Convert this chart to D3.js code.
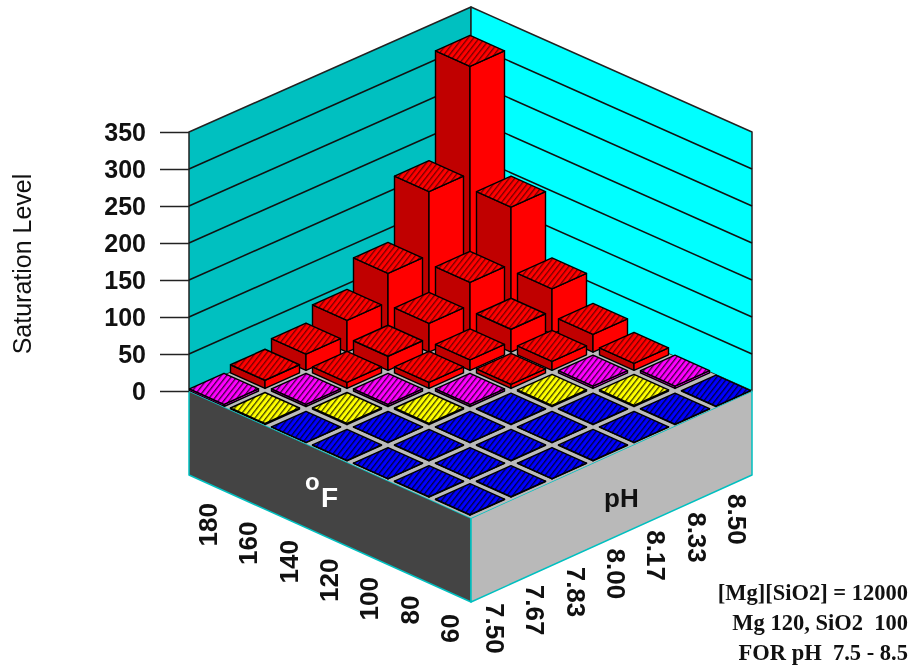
<!DOCTYPE html>
<html>
<head>
<meta charset="utf-8">
<script src="https://cdn.jsdelivr.net/npm/d3@7"></script>
<style>
  html, body { margin: 0; padding: 0; background: #fff; }
  svg { display: block; filter: blur(0.45px); }
  text { font-family: "Liberation Sans", Arial, sans-serif; }
</style>
</head>
<body>
<script>
// Saturation level by temperature and pH
var tempLabels = ["180", "160", "140", "120", "100", "80", "60"];
var phLabels = ["7.50", "7.67", "7.83", "8.00", "8.17", "8.33", "8.50"];
var levelTicks = [0, 50, 100, 150, 200, 250, 300, 350];

// one row per temperature, one value per pH
var sat180 = [3, 11, 22, 43, 82, 168, 313];
var sat160 = [1.5, 3, 8, 19, 39, 70, 147];
var sat140 = [0.5, 1.5, 3, 8, 14, 31, 61];
var sat120 = [0.5, 0.5, 1.5, 3, 5.5, 12, 24];
var sat100 = [0.5, 0.5, 0.5, 0.5, 1.5, 3, 9.5];
var sat80 = [0.5, 0.5, 0.5, 0.5, 0.5, 1.5, 3];
var sat60 = [0.5, 0.5, 0.5, 0.5, 0.5, 0.5, 0.5];
var satRows = [sat180, sat160, sat140, sat120, sat100, sat80, sat60];

var annotations = ["[Mg][SiO2] = 12000", "Mg 120, SiO2  100", "FOR pH  7.5 - 8.5"];

// Frame of the box
var left = 189, right = 752, mid = 471;
var floorY = 391, frontY = 518, backY = 266, baseDepth = 84;

var svg = d3.select("body").append("svg")
    .attr("width", 914)
    .attr("height", 665);

// Scales: value to pixels, and the two floor directions
var y = d3.scaleLinear().domain([0, 350]).range([floorY, 132]);
var tempStep = d3.scaleLinear().domain([0, 1]).range([0, 41]);
var stepY = d3.scaleLinear().domain([0, 1]).range([0, 18.1]);

function cellX(i, j) { return 224 + tempStep(i + j); }
function cellY(i, j) { return floorY + stepY(i - j); }

var levelColor = d3.scaleThreshold()
    .domain([1, 2, 5])
    .range(["#0000ff", "#ffff00", "#ff00ff", "#ff0000"]);
var darkColor = d3.scaleThreshold()
    .domain([1, 2, 5])
    .range(["#0000b0", "#b0b000", "#b000b0", "#c00000"]);

// Hatching on the top faces
var defs = svg.append("defs");
["#0000ff", "#ffff00", "#ff00ff", "#ff0000"].forEach(function(c, k) {
    var p = defs.append("pattern")
        .attr("id", "hatch" + k)
        .attr("patternUnits", "userSpaceOnUse")
        .attr("width", 4.4)
        .attr("height", 4.4)
        .attr("patternTransform", "rotate(38)");
    p.append("rect").attr("width", 4.4).attr("height", 4.4).attr("fill", c);
    p.append("rect").attr("width", 1.3).attr("height", 4.4).attr("fill", "#000").attr("opacity", k == 3 ? 0.55 : 0.75);
});
defs.append("clipPath").attr("id", "floorClip")
    .append("polygon")
    .attr("points", [[left, floorY], [left, 0], [right, 0], [right, floorY], [mid, frontY]].join(" "));

function poly(points, fill, stroke, width) {
    return svg.append("polygon")
        .attr("points", points.join(" "))
        .attr("fill", fill)
        .attr("stroke", stroke)
        .attr("stroke-width", width)
        .attr("stroke-linejoin", "round");
}

// Walls
var wallRise = floorY - backY;
poly([[left, y(0)], [left, y(350)], [mid, y(350) - wallRise], [mid, backY]], "#00c0c0", "#222", 1.5);
poly([[right, y(0)], [right, y(350)], [mid, y(350) - wallRise], [mid, backY]], "#00ffff", "#222", 1.5);

// Wall lines
levelTicks.slice(1, -1).forEach(function(t) {
    svg.append("line").attr("x1", left).attr("y1", y(t)).attr("x2", mid).attr("y2", y(t) - wallRise)
        .attr("stroke", "#111").attr("stroke-width", 1.5);
    svg.append("line").attr("x1", right).attr("y1", y(t)).attr("x2", mid).attr("y2", y(t) - wallRise)
        .attr("stroke", "#111").attr("stroke-width", 1.5);
});

// Base of the box
poly([[left, floorY], [mid, frontY], [mid, frontY + baseDepth], [left, floorY + baseDepth]], "#444444", "#00c0c0", 1.5);
poly([[right, floorY], [mid, frontY], [mid, frontY + baseDepth], [right, floorY + baseDepth]], "#b9b9b9", "#00c0c0", 1.5);
poly([[left, floorY], [mid, backY], [right, floorY], [mid, frontY]], "#bbbbbb", "none", 0);

// Bars, back to front
var cells = [];
satRows.forEach(function(row, i) {
    row.forEach(function(v, j) {
        cells.push({ i: i, j: j, v: v });
    });
});
cells.sort(function(a, b) { return (a.i - a.j) - (b.i - b.j); });

var hw = 34.5, hh = 15.5;
var bars = svg.append("g").attr("clip-path", "url(#floorClip)");

function face(points, fill) {
    bars.append("polygon")
        .attr("points", points.join(" "))
        .attr("fill", fill)
        .attr("stroke", "#000")
        .attr("stroke-width", 1.4)
        .attr("stroke-linejoin", "round");
}

cells.forEach(function(d) {
    var cx = cellX(d.i, d.j), cy = cellY(d.i, d.j);
    var h = y(0) - y(d.v);
    var top = cy - h;
    var k = levelColor.range().indexOf(levelColor(d.v));
    face([[cx - hw, cy], [cx, cy + hh], [cx, top + hh], [cx - hw, top]], darkColor(d.v));
    face([[cx + hw, cy], [cx, cy + hh], [cx, top + hh], [cx + hw, top]], levelColor(d.v));
    face([[cx - hw, top], [cx, top - hh], [cx + hw, top], [cx, top + hh]], "url(#hatch" + k + ")");
});

// Value axis on the left wall
var axis = svg.append("g")
    .attr("transform", "translate(" + left + ",0)")
    .call(d3.axisLeft(y).tickValues(levelTicks).tickSize(29).tickPadding(14).tickFormat(d3.format("d")));
axis.select(".domain").remove();
axis.selectAll("line").attr("stroke", "#222").attr("stroke-width", 1.5);
axis.selectAll("text")
    .attr("font-size", 25)
    .attr("font-weight", "bold")
    .attr("fill", "#111");

svg.append("text")
    .attr("transform", "translate(31,264) rotate(-90)")
    .attr("text-anchor", "middle")
    .attr("font-size", 25)
    .attr("fill", "#111")
    .text("Saturation Level");

// Temperature labels along the lower left edge
var tempX = d3.scalePoint().domain(tempLabels).range([208, 450]);
var tempY = d3.scalePoint().domain(tempLabels).range([503, 614]);
svg.selectAll(".tempLabel")
    .data(tempLabels)
    .enter().append("text")
    .attr("class", "tempLabel")
    .attr("transform", function(d) { return "translate(" + (tempX(d) + 9) + "," + tempY(d) + ") rotate(-90)"; })
    .attr("text-anchor", "end")
    .attr("font-size", 26)
    .attr("font-weight", "bold")
    .attr("fill", "#111")
    .text(function(d) { return d; });

// pH labels along the lower right edge
var phX = d3.scalePoint().domain(phLabels).range([495, 737]);
var phY = d3.scalePoint().domain(phLabels).range([603, 494]);
svg.selectAll(".phLabel")
    .data(phLabels)
    .enter().append("text")
    .attr("class", "phLabel")
    .attr("transform", function(d) { return "translate(" + (phX(d) - 9) + "," + phY(d) + ") rotate(90)"; })
    .attr("text-anchor", "start")
    .attr("font-size", 26)
    .attr("font-weight", "bold")
    .attr("fill", "#111")
    .text(function(d) { return d; });

// Side titles
svg.append("text").attr("x", 305).attr("y", 490)
    .attr("font-size", 24).attr("font-weight", "bold").attr("fill", "#fff").text("o");
svg.append("text").attr("x", 321).attr("y", 507)
    .attr("font-size", 28).attr("font-weight", "bold").attr("fill", "#fff").text("F");
svg.append("text").attr("x", 604).attr("y", 507)
    .attr("font-size", 26).attr("font-weight", "bold").attr("fill", "#111").text("pH");

// Notes in the corner
svg.selectAll(".note")
    .data(annotations)
    .enter().append("text")
    .attr("class", "note")
    .attr("x", 908)
    .attr("y", function(d, k) { return 600 + k * 30; })
    .attr("text-anchor", "end")
    .style("white-space", "pre")
    .style("font-family", "'Liberation Serif', serif")
    .attr("font-size", 22.5)
    .attr("font-weight", "bold")
    .attr("fill", "#111")
    .text(function(d) { return d; });
</script>
</body>
</html>
